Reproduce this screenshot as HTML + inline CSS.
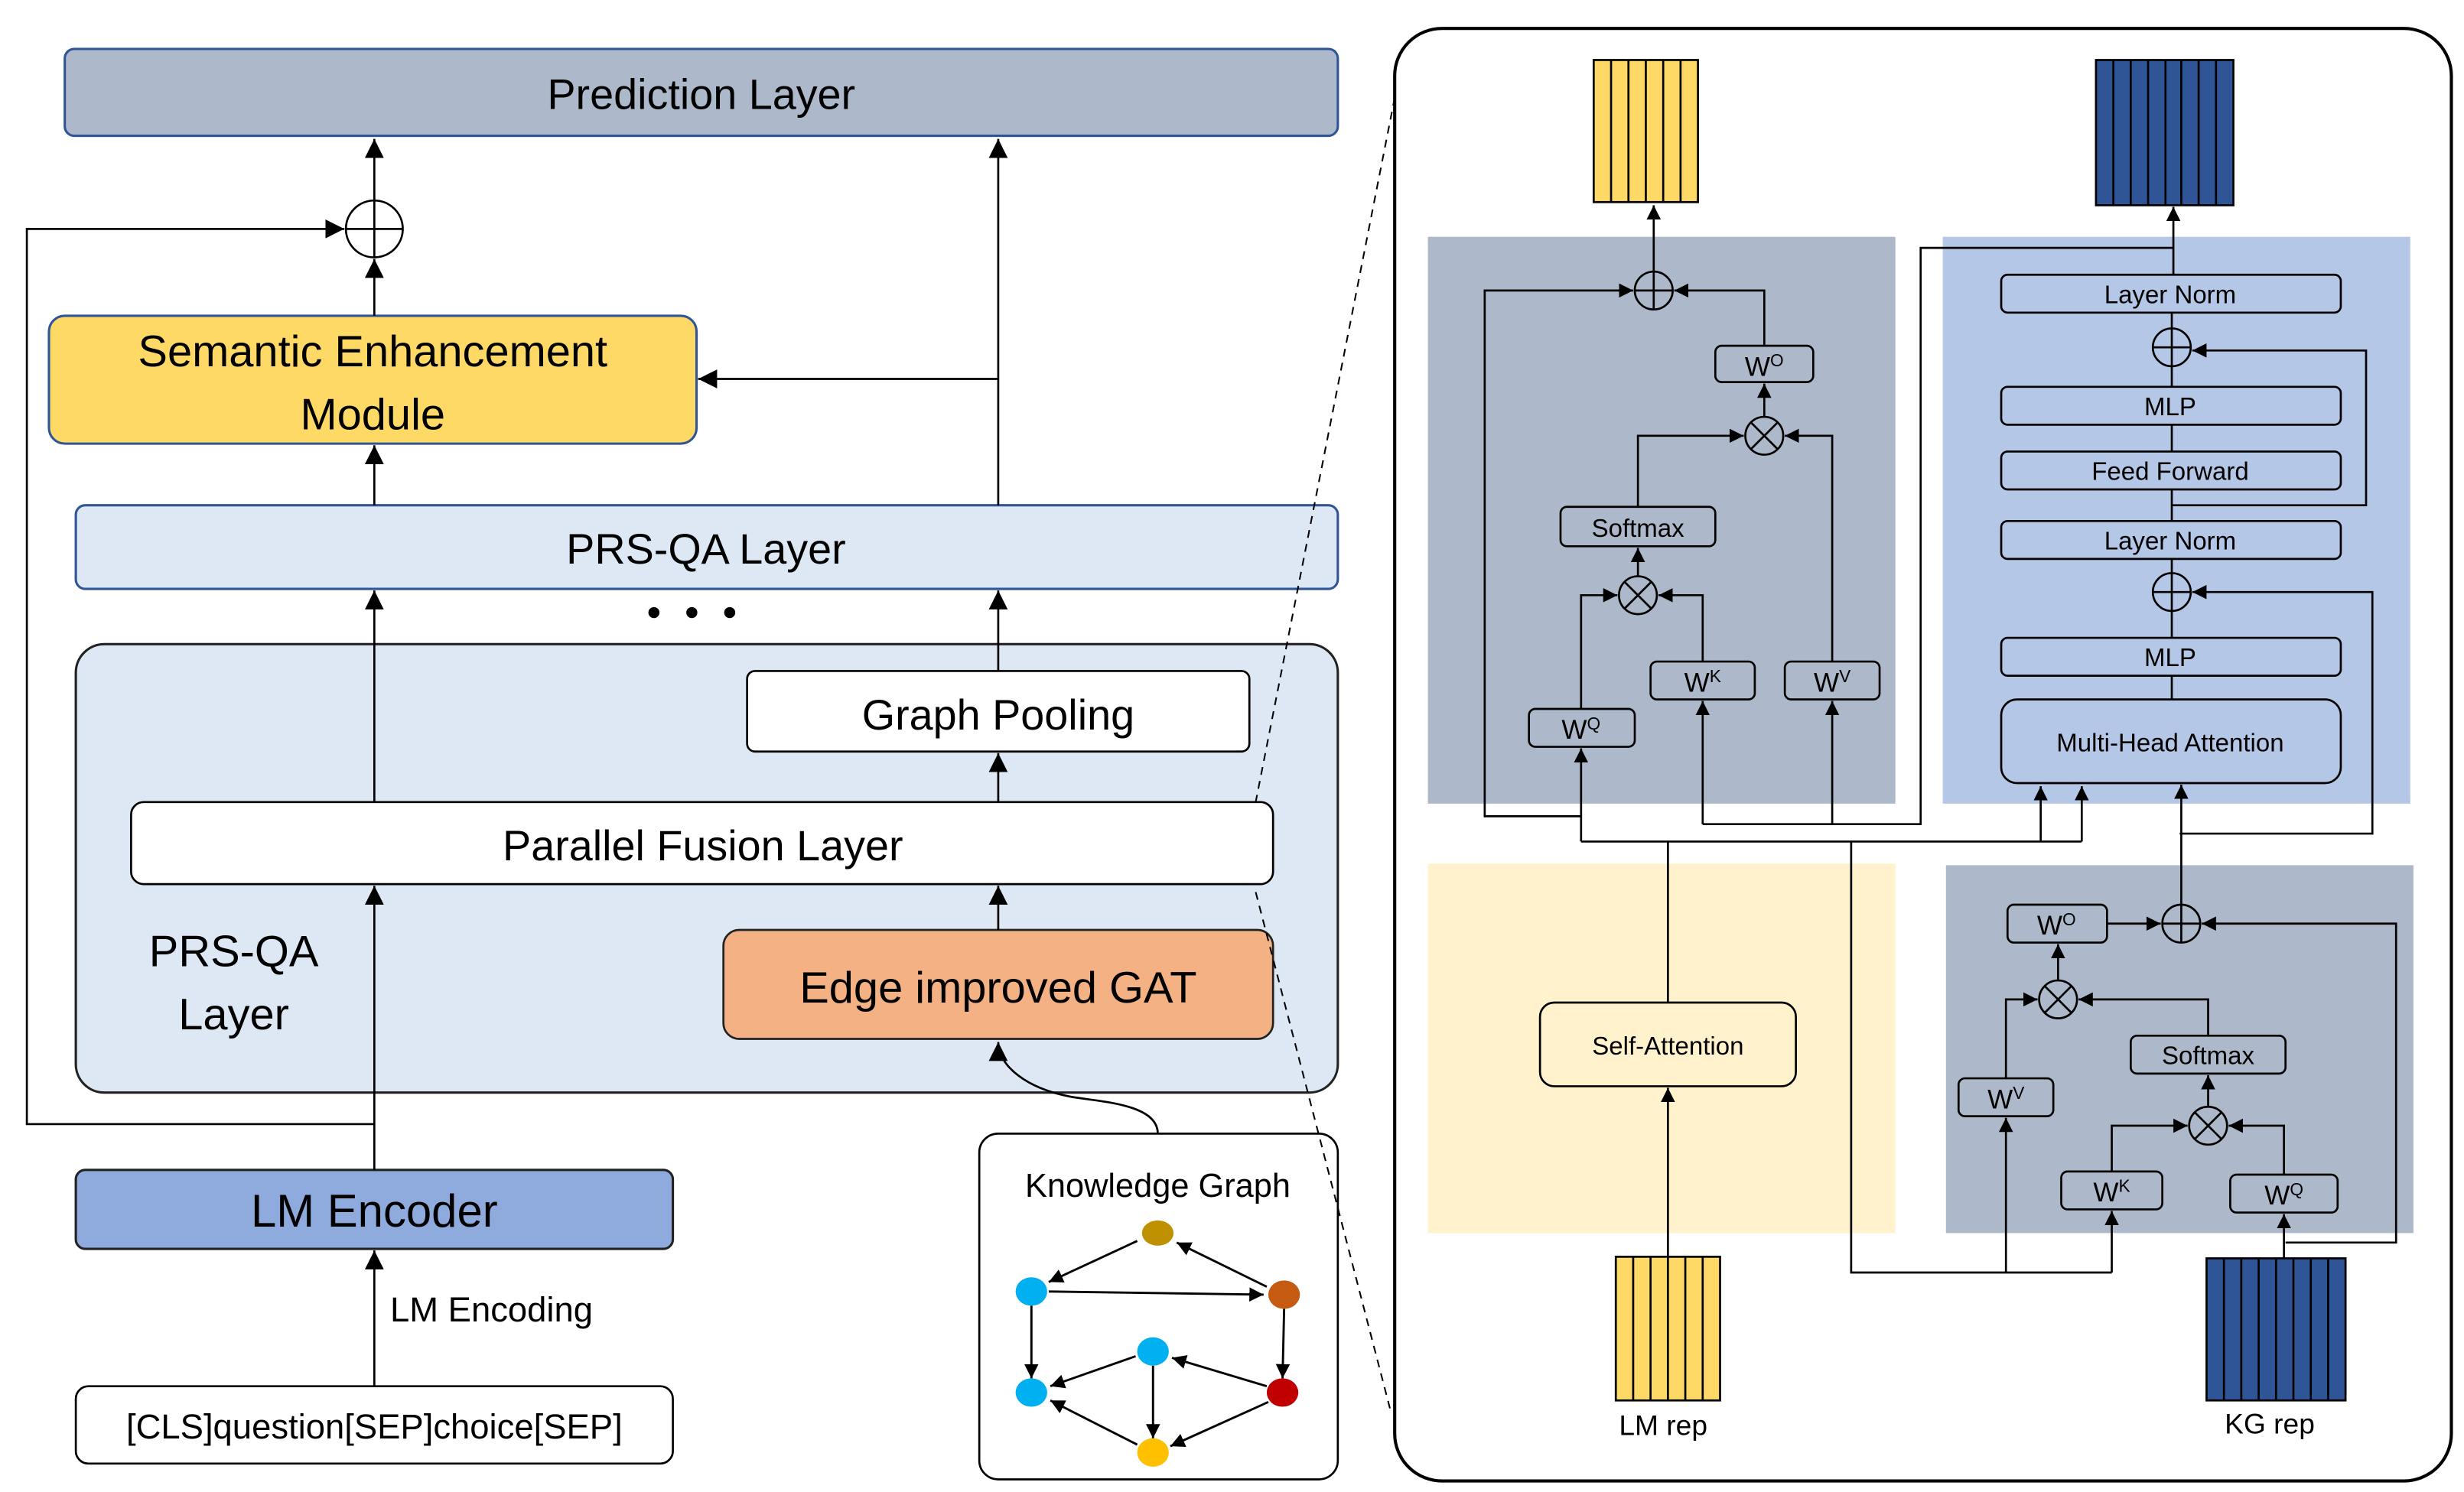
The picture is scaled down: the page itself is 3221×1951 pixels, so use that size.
<!DOCTYPE html>
<html><head><meta charset="utf-8"><style>
html,body{margin:0;padding:0;background:#fff}
svg{display:block}
text{font-family:"Liberation Sans",sans-serif;fill:#000}
</style></head><body>
<svg width="3221" height="1951" viewBox="0 0 1560 945" preserveAspectRatio="none" xmlns="http://www.w3.org/2000/svg">
<defs>
<marker id="a" markerUnits="userSpaceOnUse" markerWidth="12" markerHeight="12" viewBox="0 0 10 10" refX="10" refY="5" orient="auto"><path d="M0,0L10,5L0,10z" fill="#000"/></marker>
<marker id="s" markerUnits="userSpaceOnUse" markerWidth="9" markerHeight="9" viewBox="0 0 10 10" refX="10" refY="5" orient="auto"><path d="M0,0L10,5L0,10z" fill="#000"/></marker>
</defs>
<g fill="none" stroke="#000" stroke-width="1.3">
<!-- LEFT -->
<rect x="41" y="31" width="806" height="55" rx="6" fill="#adb9ca" stroke="#2f5597" stroke-width="1.5"/>
<rect x="31" y="200" width="410" height="81" rx="10" fill="#ffd966" stroke="#2f5597" stroke-width="1.5"/>
<rect x="48" y="320" width="799" height="53" rx="6" fill="#dee8f5" stroke="#2f5597" stroke-width="1.5"/>
<rect x="48" y="408" width="799" height="284" rx="18" fill="#dee8f5" stroke="#222" stroke-width="1.5"/>
<rect x="473" y="425" width="318" height="51" rx="5" fill="#fff"/>
<rect x="83" y="508" width="723" height="52" rx="8" fill="#fff"/>
<rect x="458" y="589" width="348" height="69" rx="10" fill="#f4b183" stroke="#222"/>
<rect x="48" y="741" width="378" height="50" rx="6" fill="#8faadc" stroke="#222" stroke-width="1.5"/>
<rect x="48" y="878" width="378" height="49" rx="8" fill="#fff"/>
<rect x="620" y="718" width="227" height="219" rx="12" fill="#fff"/>
<circle cx="237" cy="145" r="18"/>
<path d="M219,145H255M237,127V163"/>
<path d="M237,127V88" marker-end="url(#a)"/>
<path d="M237,200V164" marker-end="url(#a)"/>
<path d="M237,712H17V145H218" marker-end="url(#a)"/>
<path d="M632,320V88" marker-end="url(#a)"/>
<path d="M632,240H442" marker-end="url(#a)"/>
<path d="M237,320V282" marker-end="url(#a)"/>
<path d="M237,508V374" marker-end="url(#a)"/>
<path d="M632,425V374" marker-end="url(#a)"/>
<path d="M632,508V477" marker-end="url(#a)"/>
<path d="M632,589V561" marker-end="url(#a)"/>
<path d="M237,741V561" marker-end="url(#a)"/>
<path d="M237,878V792" marker-end="url(#a)"/>
<path d="M733,718C733,700 700,698 680,695C650,690 632,675 632,660" marker-end="url(#a)"/>
<!-- graph edges -->
<g stroke-width="1.4">
<path d="M720,786L664,812" marker-end="url(#s)"/>
<path d="M802,815L745,787" marker-end="url(#s)"/>
<path d="M664,818L800,820" marker-end="url(#s)"/>
<path d="M653,827V873" marker-end="url(#s)"/>
<path d="M813,829L812,873" marker-end="url(#s)"/>
<path d="M802,878L742,860" marker-end="url(#s)"/>
<path d="M719,859L665,878" marker-end="url(#s)"/>
<path d="M730,865V911" marker-end="url(#s)"/>
<path d="M720,915L665,887" marker-end="url(#s)"/>
<path d="M803,888L741,916" marker-end="url(#s)"/>
</g>
</g>
<g stroke="none">
<ellipse cx="733" cy="781" rx="10" ry="8" fill="#bf9000"/>
<ellipse cx="653" cy="818" rx="10" ry="9" fill="#00b0f0"/>
<ellipse cx="813" cy="820" rx="10" ry="9" fill="#c55a11"/>
<ellipse cx="730" cy="856" rx="10" ry="9" fill="#00b0f0"/>
<ellipse cx="812" cy="882" rx="10" ry="9" fill="#c00000"/>
<ellipse cx="653" cy="882" rx="10" ry="9" fill="#00b0f0"/>
<ellipse cx="730" cy="920" rx="10" ry="9" fill="#ffc000"/>
<circle cx="414" cy="388" r="3.5" fill="#000"/><circle cx="438" cy="388" r="3.5" fill="#000"/><circle cx="462" cy="388" r="3.5" fill="#000"/>
</g>
<path d="M883,62L795,508M795,565L880,892" stroke="#000" stroke-width="1" stroke-dasharray="5,4" fill="none"/>
<g text-anchor="middle">
<text x="444" y="69" font-size="27">Prediction Layer</text>
<text x="236" y="232" font-size="28">Semantic Enhancement</text>
<text x="236" y="272" font-size="28">Module</text>
<text x="447" y="357" font-size="27">PRS-QA Layer</text>
<text x="632" y="462" font-size="27">Graph Pooling</text>
<text x="445" y="545" font-size="27">Parallel Fusion Layer</text>
<text x="632" y="635" font-size="28">Edge improved GAT</text>
<text x="148" y="612" font-size="28">PRS-QA</text>
<text x="148" y="652" font-size="28">Layer</text>
<text x="237" y="777" font-size="29">LM Encoder</text>
<text x="237" y="911" font-size="22">[CLS]question[SEP]choice[SEP]</text>
<text x="733" y="758" font-size="21">Knowledge Graph</text>
</g>
<text x="247" y="837" font-size="22">LM Encoding</text>

<!-- RIGHT PANEL -->
<rect x="883" y="18" width="669" height="920" rx="30" fill="#fff" stroke="#000" stroke-width="2"/>
<rect x="904" y="150" width="296" height="359" fill="#adb9ca"/>
<rect x="1230" y="150" width="296" height="359" fill="#b4c7e7"/>
<rect x="904" y="547" width="296" height="234" fill="#fff2cc"/>
<rect x="1232" y="548" width="296" height="233" fill="#adb9ca"/>
<!-- bars -->
<g stroke="#000" stroke-width="1.3">
<rect x="1009" y="38" width="66" height="90" fill="#ffd966"/>
<path d="M1020,38V128M1031,38V128M1042,38V128M1053,38V128M1064,38V128"/>
<rect x="1327" y="38" width="87" height="92" fill="#2f5597"/>
<path d="M1338,38V130M1349,38V130M1360,38V130M1371,38V130M1381,38V130M1392,38V130M1403,38V130"/>
<rect x="1023" y="796" width="66" height="91" fill="#ffd966"/>
<path d="M1034,796V887M1045,796V887M1056,796V887M1067,796V887M1078,796V887"/>
<rect x="1397" y="797" width="88" height="90" fill="#2f5597"/>
<path d="M1408,797V887M1419,797V887M1430,797V887M1441,797V887M1452,797V887M1463,797V887M1474,797V887"/>
</g>
<g fill="none" stroke="#000" stroke-width="1.3">
<!-- top-left attention -->
<circle cx="1047" cy="184" r="12"/><path d="M1035,184H1059M1047,172V196"/>
<path d="M1047,172V130" marker-end="url(#s)"/>
<path d="M1001,517H940V184H1034" marker-end="url(#s)"/>
<rect x="1086" y="219" width="62" height="23" rx="4"/>
<path d="M1117,219V184H1060" marker-end="url(#s)"/>
<circle cx="1117" cy="276" r="12"/><path d="M1108.5,267.5L1125.5,284.5M1125.5,267.5L1108.5,284.5"/>
<path d="M1117,264V243" marker-end="url(#s)"/>
<rect x="988" y="321" width="98" height="25" rx="4"/>
<path d="M1037,321V276H1104" marker-end="url(#s)"/>
<rect x="1130" y="419" width="60" height="24" rx="4"/>
<path d="M1160,419V276H1130" marker-end="url(#s)"/>
<circle cx="1037" cy="377" r="12"/><path d="M1028.5,368.5L1045.5,385.5M1045.5,368.5L1028.5,385.5"/>
<path d="M1037,365V347" marker-end="url(#s)"/>
<rect x="1045" y="419" width="66" height="24" rx="4"/>
<path d="M1078,419V377H1050" marker-end="url(#s)"/>
<rect x="968" y="449" width="67" height="24" rx="4"/>
<path d="M1001,449V377H1024" marker-end="url(#s)"/>
<path d="M1001,533V474" marker-end="url(#s)"/>
<path d="M1078,522V444" marker-end="url(#s)"/>
<path d="M1160,522V444" marker-end="url(#s)"/>
<path d="M1078,522H1216V157H1376"/>
<path d="M1001,533H1318"/>
<path d="M1292,533V498" marker-end="url(#s)"/>
<path d="M1318,533V498" marker-end="url(#s)"/>
<path d="M1056,533V635"/>
<rect x="975" y="635" width="162" height="53" rx="9" fill="#fff2cc"/>
<path d="M1056,796V689" marker-end="url(#s)"/>
<path d="M1172,533V806H1337"/>
<path d="M1270,806V708" marker-end="url(#s)"/>
<path d="M1337,806V767" marker-end="url(#s)"/>
<!-- top-right stack -->
<path d="M1376,174V131" marker-end="url(#s)"/>
<rect x="1267" y="174" width="215" height="24" rx="4"/>
<path d="M1375,198V245"/>
<circle cx="1375" cy="220" r="12"/><path d="M1363,220H1387"/>
<rect x="1267" y="245" width="215" height="24" rx="4"/>
<path d="M1375,269V286"/>
<rect x="1267" y="286" width="215" height="24" rx="4"/>
<path d="M1375,310V330M1375,320H1498V222H1388" marker-end="url(#s)"/>
<rect x="1267" y="330" width="215" height="24" rx="4"/>
<path d="M1375,354V404"/>
<circle cx="1375" cy="375" r="12"/><path d="M1363,375H1387"/>
<path d="M1380,528H1502V375H1388" marker-end="url(#s)"/>
<rect x="1267" y="404" width="215" height="24" rx="4"/>
<path d="M1375,428V443"/>
<rect x="1267" y="443" width="215" height="53" rx="10"/>
<path d="M1381,573V497" marker-end="url(#s)"/>
<!-- bottom-right attention -->
<circle cx="1381" cy="585" r="12"/><path d="M1369,585H1393M1381,573V597"/>
<rect x="1271" y="573" width="63" height="24" rx="4"/>
<path d="M1334,585H1368" marker-end="url(#s)"/>
<path d="M1447,787H1517V585H1394" marker-end="url(#s)"/>
<circle cx="1303" cy="633" r="12"/><path d="M1294.5,624.5L1311.5,641.5M1311.5,624.5L1294.5,641.5"/>
<path d="M1303,621V598" marker-end="url(#s)"/>
<rect x="1240" y="683" width="60" height="24" rx="4"/>
<path d="M1270,683V633H1290" marker-end="url(#s)"/>
<rect x="1349" y="656" width="98" height="24" rx="4"/>
<path d="M1398,656V633H1316" marker-end="url(#s)"/>
<circle cx="1398" cy="713" r="12"/><path d="M1389.5,704.5L1406.5,721.5M1406.5,704.5L1389.5,721.5"/>
<path d="M1398,701V681" marker-end="url(#s)"/>
<rect x="1305" y="742" width="64" height="24" rx="4"/>
<path d="M1337,742V713H1385" marker-end="url(#s)"/>
<rect x="1412" y="744" width="68" height="24" rx="4"/>
<path d="M1446,744V713H1411" marker-end="url(#s)"/>
<path d="M1446,797V769" marker-end="url(#s)"/>
</g>
<g text-anchor="middle" font-size="16">
<text x="1374" y="192">Layer Norm</text>
<text x="1374" y="263">MLP</text>
<text x="1374" y="304">Feed Forward</text>
<text x="1374" y="348">Layer Norm</text>
<text x="1374" y="422">MLP</text>
<text x="1374" y="476">Multi-Head Attention</text>
<text x="1037" y="340">Softmax</text>
<text x="1398" y="674">Softmax</text>
<text x="1056" y="668">Self-Attention</text>
<text x="1053" y="909" font-size="18">LM rep</text>
<text x="1437" y="908" font-size="18">KG rep</text>
<g font-size="17">
<text x="1117" y="238">W<tspan font-size="11" dy="-6">O</tspan></text>
<text x="1160" y="438">W<tspan font-size="11" dy="-6">V</tspan></text>
<text x="1078" y="438">W<tspan font-size="11" dy="-6">K</tspan></text>
<text x="1001" y="468">W<tspan font-size="11" dy="-6">Q</tspan></text>
<text x="1302" y="592">W<tspan font-size="11" dy="-6">O</tspan></text>
<text x="1270" y="702">W<tspan font-size="11" dy="-6">V</tspan></text>
<text x="1337" y="761">W<tspan font-size="11" dy="-6">K</tspan></text>
<text x="1446" y="763">W<tspan font-size="11" dy="-6">Q</tspan></text>
</g>
</g>
</svg>
</body></html>
